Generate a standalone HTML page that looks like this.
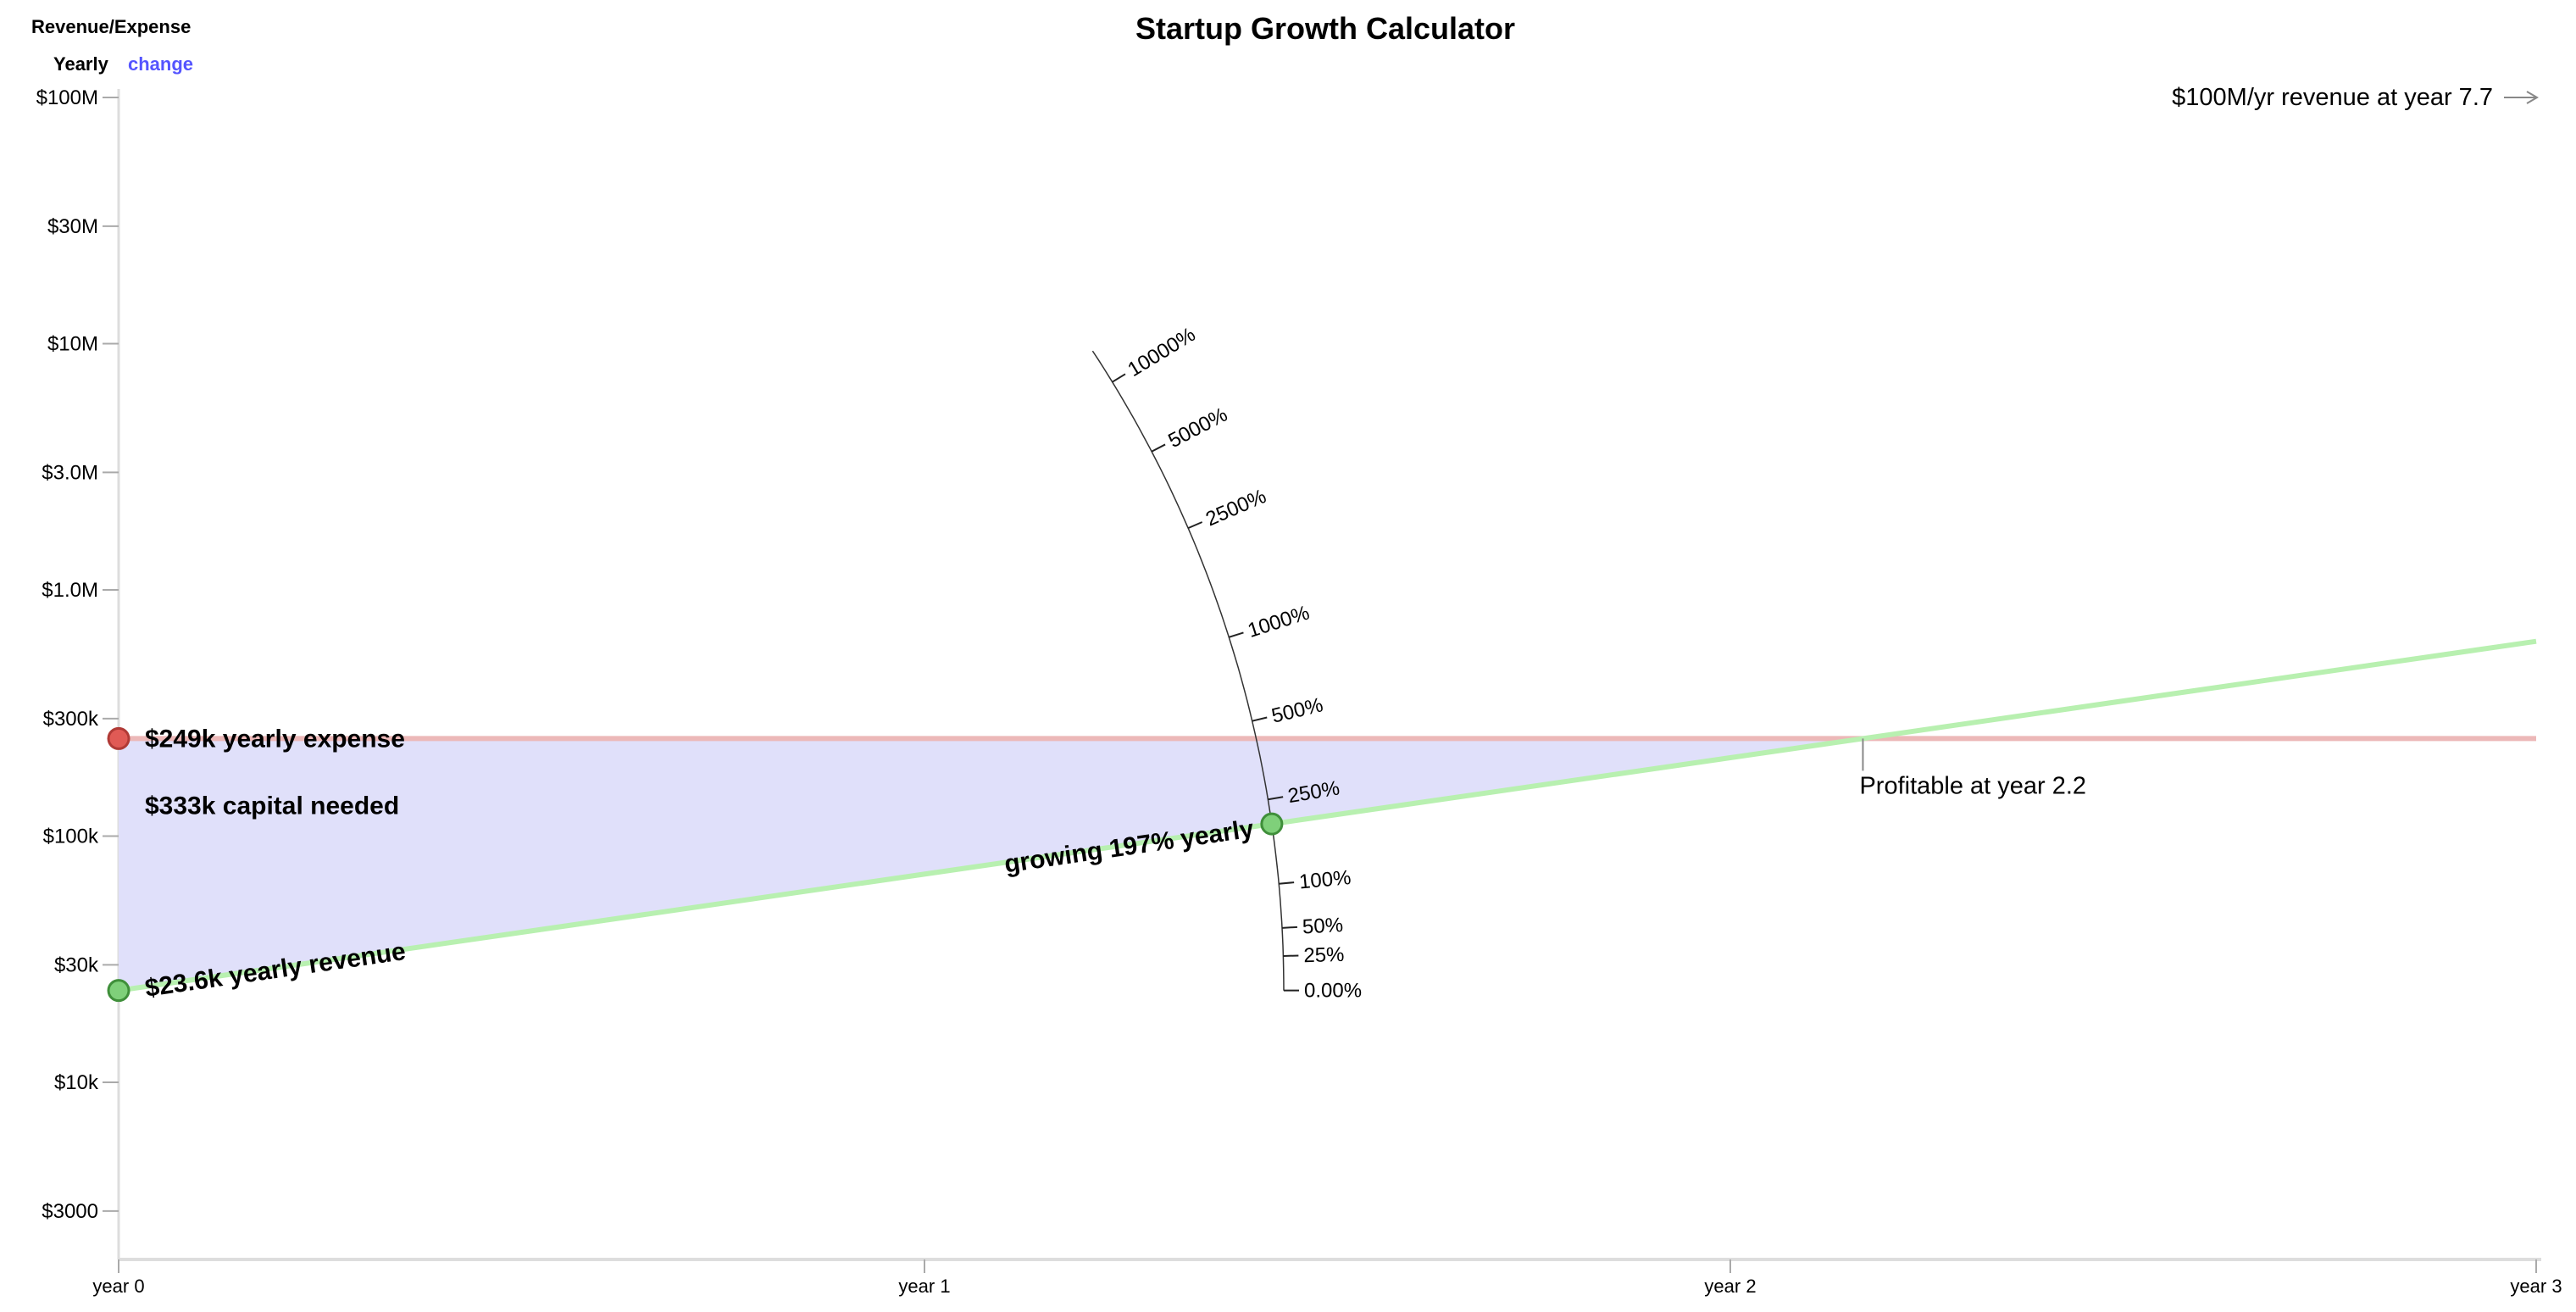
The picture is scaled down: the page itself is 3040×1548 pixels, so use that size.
<!DOCTYPE html>
<html><head><meta charset="utf-8"><style>
html,body{margin:0;padding:0;background:#fff;}
svg{display:block;font-family:"Liberation Sans",Arial,sans-serif;}
</style></head><body>
<svg id="chart" width="3040" height="1548" viewBox="0 0 3040 1548">
<text x="1564" y="46" font-size="36" font-weight="bold" text-anchor="middle">Startup Growth Calculator</text>
<text x="37" y="39" font-size="22" font-weight="bold">Revenue/Expense</text>
<text x="63" y="83" font-size="22" font-weight="bold">Yearly</text>
<text x="151" y="83" font-size="22" font-weight="bold" fill="#5555ff" style="cursor:pointer">change</text>
<g id="axes"></g>
<g id="marks"></g>
<g id="dial"></g>
</svg>
<script>
const yearTicks = [0, 1, 2, 3];
const yTickValues = [100e6, 30e6, 10e6, 3e6, 1e6, 300e3, 100e3, 30e3, 10e3, 3000];
const yTickLabels = ["$100M", "$30M", "$10M", "$3.0M", "$1.0M", "$300k", "$100k", "$30k", "$10k", "$3000"];
const startRevenue = [23600];
const yearlyExpense = [249000];
const growthRate = [1.97];
const dialTicks = [0, 0.25, 0.5, 1, 2.5, 5, 10, 25, 50, 100];
const dialLabels = ["0.00%", "25%", "50%", "100%", "250%", "500%", "1000%", "2500%", "5000%", "10000%"];
const capitalLabel = ["$333k capital needed"];
const milestoneLabel = ["$100M/yr revenue at year 7.7"];

const NS = "http://www.w3.org/2000/svg";
const X0 = 140, XW = 951, YTOP = 115, DEC = 290.5;
function xs(t){ return X0 + t * XW; }
function ys(v){ return YTOP + (8 - Math.log10(v)) * DEC; }
function mk(parent, tag, attrs, text){
  const e = document.createElementNS(NS, tag);
  for (const k in attrs) e.setAttribute(k, attrs[k]);
  if (text !== undefined) e.textContent = text;
  parent.appendChild(e); return e;
}
const axes = document.getElementById('axes');
const marks = document.getElementById('marks');
const dial = document.getElementById('dial');

// y axis
let yl = mk(axes, 'line', {x1:X0, y1:105, x2:X0, y2:1486, stroke:'#ddd', 'stroke-width':3});


yTickValues.forEach((v, i) => {
  const y = ys(v);
  let t = mk(axes, 'line', {x1:X0-19, y1:y, x2:X0, y2:y, stroke:'#aaa', 'stroke-width':2});
  
  
  let l = mk(axes, 'text', {x:X0-24, y:y+8, 'font-size':24, 'text-anchor':'end'}, yTickLabels[i]);
  
  
});
// x axis
let xl = mk(axes, 'line', {x1:X0, y1:1486, x2:xs(3)+6, y2:1486, stroke:'#ddd', 'stroke-width':4});


yearTicks.forEach(t => {
  const x = xs(t);
  let tk = mk(axes, 'line', {x1:x, y1:1486, x2:x, y2:1502, stroke:'#aaa', 'stroke-width':2});
  
  
  let l = mk(axes, 'text', {x:x, y:1525, 'font-size':22, 'text-anchor':'middle'}, 'year ' + t);
  
  
});

// data
const R0 = startRevenue[0], E = yearlyExpense[0], g = growthRate[0];
const rev = t => R0 * Math.pow(1 + g, t);
const tProfit = Math.log(E / R0) / Math.log(1 + g);

let area = mk(marks, 'polygon', {points:`${xs(0)},${ys(E)} ${xs(tProfit)},${ys(E)} ${xs(0)},${ys(R0)}`, fill:'#e0e0fa'});


let eline = mk(marks, 'line', {x1:xs(0), y1:ys(E), x2:xs(3), y2:ys(E), stroke:'#ecb8b8', 'stroke-width':6});


let rline = mk(marks, 'line', {x1:xs(0), y1:ys(R0), x2:xs(3), y2:ys(rev(3)), stroke:'#b8f0b0', 'stroke-width':6});



let ptick = mk(marks, 'line', {x1:xs(tProfit), y1:ys(E), x2:xs(tProfit), y2:ys(E)+38, stroke:'#888', 'stroke-width':2});


let ptext = mk(marks, 'text', {x:xs(tProfit)-4, y:ys(E)+65, 'font-size':29}, 'Profitable at year ' + tProfit.toFixed(1));



let mtext = mk(marks, 'text', {x:2942, y:124, 'font-size':29, 'text-anchor':'end'}, milestoneLabel[0]);


let arrow = mk(marks, 'path', {d:'M2955 115 H2994 M2982 108 L2994 115 L2982 122', stroke:'#888', 'stroke-width':2, fill:'none'});



let etext = mk(marks, 'text', {x:171, y:ys(E)+10, 'font-size':30, 'font-weight':'bold'}, '$' + Math.round(E/1000) + 'k yearly expense');


let ctext = mk(marks, 'text', {x:171, y:ys(E)+89, 'font-size':30, 'font-weight':'bold'}, capitalLabel[0]);



const ang = Math.atan2(ys(R0) - ys(rev(1)), XW) * 180 / Math.PI;
const lineY = x => ys(R0) - (x - X0) * Math.tan(ang * Math.PI / 180);
let rtext = mk(marks, 'text', {x:171, y:lineY(171)+12, 'font-size':30, 'font-weight':'bold', transform:`rotate(${-ang} 171 ${lineY(171)})`}, '$' + (R0/1000).toFixed(1) + 'k yearly revenue');



// dial
const CX = xs(0), CY = ys(R0), RAD = 1375;
const angOf = gr => Math.atan2(Math.log10(1 + gr) * DEC, XW);
const aMax = angOf(140);
let arcPts = [];
for (let i = 0; i <= 60; i++){ const a = aMax * i / 60; arcPts.push((CX + RAD*Math.cos(a)).toFixed(1) + ',' + (CY - RAD*Math.sin(a)).toFixed(1)); }
let arc = mk(dial, 'polyline', {points:arcPts.join(' '), fill:'none', stroke:'#333', 'stroke-width':1.5});


dialTicks.forEach((gv, i) => {
  const a = angOf(gv);
  const px = CX + RAD*Math.cos(a), py = CY - RAD*Math.sin(a);
  const deg = a * 180 / Math.PI;
  const gtk = mk(dial, 'g', {transform:`translate(${px} ${py}) rotate(${-deg})`});
  
  
  mk(gtk, 'line', {x1:0, y1:0, x2:18, y2:0, stroke:'#222', 'stroke-width':2});
  let lt = mk(gtk, 'text', {x:24, y:8, 'font-size':24}, dialLabels[i]);
  
  
});

// handles
const aG = angOf(g);
const hx = CX + RAD*Math.cos(aG), hy = CY - RAD*Math.sin(aG);
let gtext = mk(marks, 'text', {x:hx-22, y:lineY(hx-22)+12, 'font-size':30, 'font-weight':'bold', 'text-anchor':'end', transform:`rotate(${-ang} ${hx-22} ${lineY(hx-22)})`}, 'growing ' + Math.round(g*100) + '% yearly');


let gh = mk(dial, 'circle', {cx:hx, cy:hy, r:12, fill:'#7fd07a', stroke:'#3f8f3a', 'stroke-width':3});


let eh = mk(marks, 'circle', {cx:xs(0), cy:ys(E), r:12, fill:'#e05a55', stroke:'#b03a36', 'stroke-width':3});


let rh = mk(marks, 'circle', {cx:xs(0), cy:ys(R0), r:12, fill:'#7fd07a', stroke:'#3f8f3a', 'stroke-width':3});


</script>
</body></html>
